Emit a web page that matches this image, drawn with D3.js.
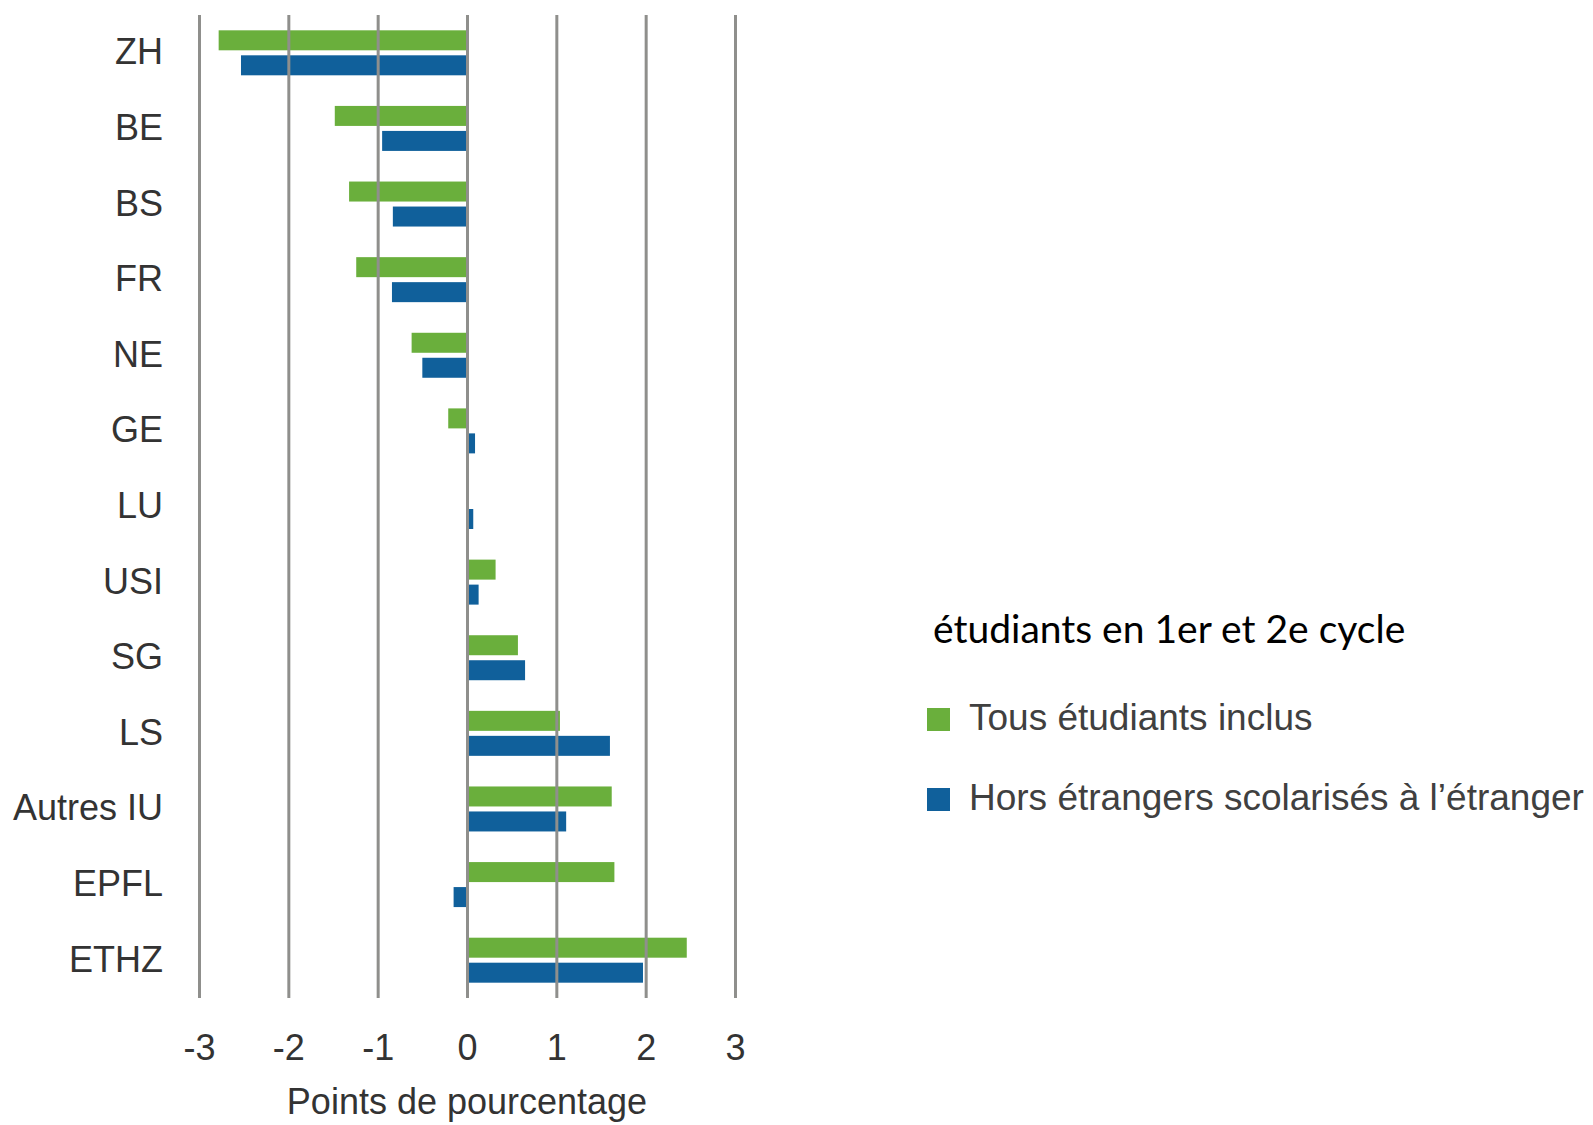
<!DOCTYPE html>
<html>
<head>
<meta charset="utf-8">
<script src="https://cdn.jsdelivr.net/npm/d3@7"></script>
<style>
    body { margin: 0; background: #fff; }
    svg { display: block; }
</style>
</head>
<body>
<div id="chart"></div>
<script>
// categories, top to bottom
const categories = ['ZH', 'BE', 'BS', 'FR', 'NE', 'GE', 'LU', 'USI', 'SG', 'LS', 'Autres IU', 'EPFL', 'ETHZ'];
// Tous étudiants inclus (points de pourcentage)
const tousValues = [-2.78, -1.48, -1.32, -1.24, -0.62, -0.21, 0, 0.32, 0.57, 1.04, 1.62, 1.65, 2.46];
// Hors étrangers scolarisés à l'étranger
const horsValues = [-2.53, -0.95, -0.83, -0.84, -0.50, 0.09, 0.07, 0.13, 0.65, 1.60, 1.11, -0.15, 1.97];
const seriesNames = ['Tous étudiants inclus', 'Hors étrangers scolarisés à l’étranger'];
const seriesColors = ['#6aaf3c', '#10609b'];
const xTicks = [-3, -2, -1, 0, 1, 2, 3];

const width = 1593, height = 1125;
const plotTop = 15, plotBottom = 998;

const svg = d3.select('#chart').append('svg')
    .attr('width', width)
    .attr('height', height);

const x = d3.scaleLinear().domain([-3, 3]).range([199, 735]);
const y = d3.scaleBand().domain(categories).range([plotTop, plotBottom])
    .paddingInner(0.405).paddingOuter(0.2025);
const ySub = d3.scaleBand().domain([0, 1]).range([0, y.bandwidth()]).paddingInner(0.2);

const rows = categories.map((c, i) => ({cat: c, vals: [tousValues[i], horsValues[i]]}));

// bars
svg.append('g')
    .selectAll('g')
    .data(rows)
    .join('g')
    .attr('transform', d => `translate(0,${y(d.cat)})`)
    .selectAll('rect')
    .data(d => d.vals.map((v, k) => ({v, k})))
    .join('rect')
    .attr('x', d => x(Math.min(0, d.v)))
    .attr('y', d => ySub(d.k))
    .attr('width', d => Math.abs(x(d.v) - x(0)))
    .attr('height', ySub.bandwidth())
    .attr('fill', d => seriesColors[d.k]);

// x axis with full-height gridlines
const xAxis = svg.append('g')
    .attr('transform', `translate(0,${plotBottom})`)
    .call(d3.axisBottom(x).tickValues(xTicks).tickSize(-(plotBottom - plotTop)).tickPadding(36)
        .tickFormat(d => d < 0 ? '-' + Math.abs(d) : d));
xAxis.select('.domain').remove();
xAxis.selectAll('line').attr('stroke', '#8f8f8c').attr('stroke-width', 3);
xAxis.selectAll('text')
    .attr('fill', '#333')
    .style('font-family', '"Liberation Sans", Arial, sans-serif')
    .style('font-size', '36px');

svg.append('text')
    .attr('x', x(0))
    .attr('y', 1114)
    .attr('text-anchor', 'middle')
    .attr('fill', '#333')
    .style('font-family', '"Liberation Sans", Arial, sans-serif')
    .style('font-size', '36px')
    .text('Points de pourcentage');

// category labels
const yAxis = svg.append('g')
    .attr('transform', `translate(${x(-3)},0)`)
    .call(d3.axisLeft(y).tickSize(0).tickPadding(36));
yAxis.select('.domain').remove();
yAxis.selectAll('text')
    .attr('fill', '#333')
    .style('font-family', '"Liberation Sans", Arial, sans-serif')
    .style('font-size', '36px');

// legend
const legend = svg.append('g');
legend.append('text')
    .attr('x', 933)
    .attr('y', 643)
    .attr('fill', '#000')
    .style('font-family', 'Lato, sans-serif')
    .style('font-size', '39px')
    .text('étudiants en 1er et 2e cycle');

const items = legend.selectAll('g.item')
    .data(seriesNames)
    .join('g')
    .attr('class', 'item')
    .attr('transform', (d, i) => `translate(927,${708 + i * 80})`);
items.append('rect')
    .attr('width', 23)
    .attr('height', 23)
    .attr('fill', (d, i) => seriesColors[i]);
items.append('text')
    .attr('x', 42)
    .attr('y', 22)
    .attr('fill', '#404040')
    .style('font-family', '"Liberation Sans", Arial, sans-serif')
    .style('font-size', '37px')
    .text(d => d);
</script>
</body>
</html>
